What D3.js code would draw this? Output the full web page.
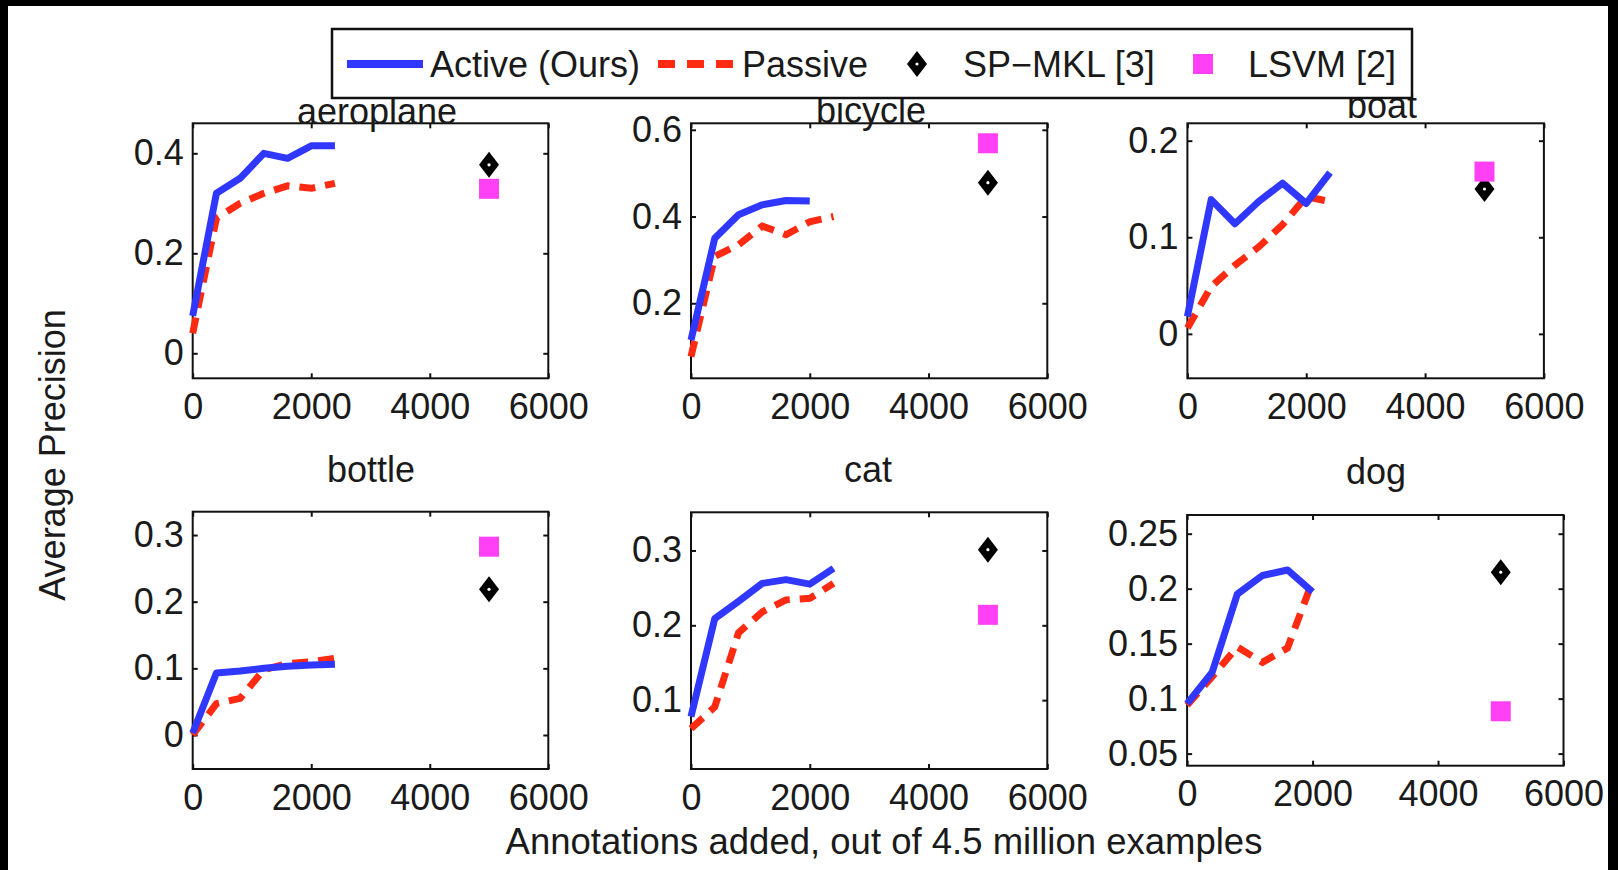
<!DOCTYPE html>
<html>
<head>
<meta charset="utf-8">
<script src="https://cdn.jsdelivr.net/npm/d3@7"></script>
<style>
  body { margin: 0; background: #000; }
  text { font-family: "Liberation Sans", Arial, sans-serif; fill: #1a1a1a; }
</style>
</head>
<body>
<script>
// data
var categories = ["aeroplane", "bicycle", "boat", "bottle", "cat", "dog"];
var annotations = [0, 400, 800, 1200, 1600, 2000, 2400];

var activeAP = [
  [0.075, 0.32, 0.35, 0.40, 0.39, 0.415, 0.415],
  [0.115, 0.35, 0.404, 0.427, 0.437, 0.436],
  [0.018, 0.139, 0.114, 0.137, 0.156, 0.135, 0.167],
  [0.003, 0.093, 0.096, 0.10, 0.103, 0.105, 0.106],
  [0.078, 0.209, 0.232, 0.256, 0.261, 0.255, 0.276],
  [0.0955, 0.124, 0.195, 0.212, 0.217, 0.197]
];
var passiveAP = [
  [0.04, 0.27, 0.30, 0.32, 0.335, 0.33, 0.34],
  [0.077, 0.308, 0.335, 0.378, 0.358, 0.388, 0.40],
  [0.006, 0.049, 0.071, 0.090, 0.113, 0.142, 0.137],
  [0.0, 0.047, 0.055, 0.098, 0.107, 0.110, 0.115],
  [0.062, 0.091, 0.19, 0.218, 0.234, 0.236, 0.256],
  [0.094, 0.12, 0.147, 0.133, 0.146, 0.207]
];
var baselineX = 5000;
var spmklAP = [0.377, 0.478, 0.150, 0.2185, 0.301, 0.215];
var lsvmAP = [0.329, 0.569, 0.168, 0.2825, 0.214, 0.0885];

var xTicks = [0, 2000, 4000, 6000];
var yTicks = [
  [0, 0.2, 0.4],
  [0.2, 0.4, 0.6],
  [0, 0.1, 0.2],
  [0, 0.1, 0.2, 0.3],
  [0.1, 0.2, 0.3],
  [0.05, 0.1, 0.15, 0.2, 0.25]
];
var yDomains = [
  [-0.05, 0.46],
  [0.027, 0.615],
  [-0.046, 0.218],
  [-0.051, 0.335],
  [0.008, 0.351],
  [0.039, 0.267]
];
var legendLabels = ["Active (Ours)", "Passive", "SP\u2212MKL [3]", "LSVM [2]"];

// layout of the six axes boxes (pixels)
var panels = [
  {x0: 192.7, x1: 548.3, y0: 123.3, y1: 378.3, tx: 377, ty: 124},
  {x0: 691, x1: 1047.3, y0: 123.3, y1: 378.3, tx: 871, ty: 123},
  {x0: 1187.4, x1: 1543.9, y0: 123.3, y1: 378.3, tx: 1382, ty: 118},
  {x0: 192.7, x1: 548.3, y0: 511.7, y1: 769, tx: 371, ty: 482},
  {x0: 691, x1: 1047.3, y0: 512.3, y1: 769, tx: 868, ty: 482},
  {x0: 1187.1, x1: 1563.5, y0: 515, y1: 765.7, tx: 1376, ty: 484}
];

var width = 1618, height = 870;
var blue = "#3038ff", red = "#ff2a12", magenta = "#ff40f5";
var fs = 36;
var diamond = "M0,-13L10,0L0,13L-10,0Z";

var svg = d3.select("body").append("svg")
  .attr("width", width)
  .attr("height", height)
  .style("display", "block");

// black frame around the white page
svg.append("rect").attr("width", width).attr("height", height).attr("fill", "#000");
svg.append("rect").attr("x", 8).attr("y", 6).attr("width", 1600).attr("height", 864).attr("fill", "#fff");

var fmt = d3.format("~g");

function drawDiamond(sel, cx, cy) {
  sel.append("path")
    .attr("d", diamond)
    .attr("transform", "translate(" + cx + "," + cy + ")")
    .attr("fill", "#000");
  sel.append("circle")
    .attr("cx", cx).attr("cy", cy).attr("r", 1.6)
    .attr("fill", "#fff");
}

categories.forEach(function(name, i) {
  var p = panels[i];
  var x = d3.scaleLinear().domain([0, 6000]).range([p.x0, p.x1]);
  var y = d3.scaleLinear().domain(yDomains[i]).range([p.y1, p.y0]);
  var g = svg.append("g");

  // y tick labels on the left, ticks on all four sides pointing in
  var yl = d3.axisLeft(y).tickValues(yTicks[i]).tickSizeInner(-5).tickSizeOuter(0).tickPadding(9).tickFormat(fmt);
  var yr = d3.axisRight(y).tickValues(yTicks[i]).tickSizeInner(-5).tickSizeOuter(0).tickFormat("");
  var xb = d3.axisBottom(x).tickValues(xTicks).tickSizeInner(-5).tickSizeOuter(0).tickPadding(15).tickFormat(fmt);
  var xt = d3.axisTop(x).tickValues(xTicks).tickSizeInner(-5).tickSizeOuter(0).tickFormat("");

  g.append("g").attr("transform", "translate(" + p.x0 + ",0)").call(yl);
  g.append("g").attr("transform", "translate(" + p.x1 + ",0)").call(yr);
  g.append("g").attr("transform", "translate(0," + p.y1 + ")").call(xb);
  g.append("g").attr("transform", "translate(0," + p.y0 + ")").call(xt);

  g.selectAll(".domain").remove();
  g.selectAll(".tick line").attr("stroke", "#111").attr("stroke-width", 2);
  g.selectAll(".tick text")
    .style("font-size", fs + "px")
    .style("font-family", "'Liberation Sans', Arial, sans-serif")
    .attr("fill", "#1a1a1a");

  // box
  g.append("rect")
    .attr("x", p.x0).attr("y", p.y0)
    .attr("width", p.x1 - p.x0).attr("height", p.y1 - p.y0)
    .attr("fill", "none").attr("stroke", "#111").attr("stroke-width", 2);

  var line = d3.line()
    .x(function(d, k) { return x(annotations[k]); })
    .y(function(d) { return y(d); });

  g.append("path").datum(passiveAP[i])
    .attr("d", line)
    .attr("fill", "none").attr("stroke", red).attr("stroke-width", 7)
    .attr("stroke-dasharray", "16,10");

  g.append("path").datum(activeAP[i])
    .attr("d", line)
    .attr("fill", "none").attr("stroke", blue).attr("stroke-width", 7)
    .attr("stroke-linejoin", "round");

  drawDiamond(g, x(baselineX), y(spmklAP[i]));

  g.append("rect")
    .attr("x", x(baselineX) - 10).attr("y", y(lsvmAP[i]) - 10)
    .attr("width", 20).attr("height", 20)
    .attr("fill", magenta);

  g.append("text")
    .attr("x", p.tx).attr("y", p.ty)
    .attr("text-anchor", "middle")
    .style("font-size", fs + "px")
    .text(name);
});

// axis titles
svg.append("text")
  .attr("transform", "translate(65,455) rotate(-90)")
  .attr("text-anchor", "middle")
  .style("font-size", fs + "px")
  .text("Average Precision");

svg.append("text")
  .attr("x", 884).attr("y", 854)
  .attr("text-anchor", "middle")
  .style("font-size", "36.5px")
  .text("Annotations added, out of 4.5 million examples");

// legend
var lg = svg.append("g");
lg.append("rect")
  .attr("x", 332).attr("y", 29).attr("width", 1080).attr("height", 69)
  .attr("fill", "#fff").attr("stroke", "#111").attr("stroke-width", 2.5);

lg.append("line").attr("x1", 347).attr("x2", 423).attr("y1", 64).attr("y2", 64)
  .attr("stroke", blue).attr("stroke-width", 8);
lg.append("line").attr("x1", 658).attr("x2", 738).attr("y1", 64).attr("y2", 64)
  .attr("stroke", red).attr("stroke-width", 8).attr("stroke-dasharray", "17,12");
drawDiamond(lg, 917, 64);
lg.append("rect").attr("x", 1193).attr("y", 54).attr("width", 20).attr("height", 20)
  .attr("fill", magenta);

var legendX = [430, 742, 963, 1248];
lg.selectAll("text.lab")
  .data(legendLabels)
  .enter().append("text")
  .attr("class", "lab")
  .attr("x", function(d, k) { return legendX[k]; })
  .attr("y", 77)
  .style("font-size", fs + "px")
  .text(function(d) { return d; });
</script>
</body>
</html>
